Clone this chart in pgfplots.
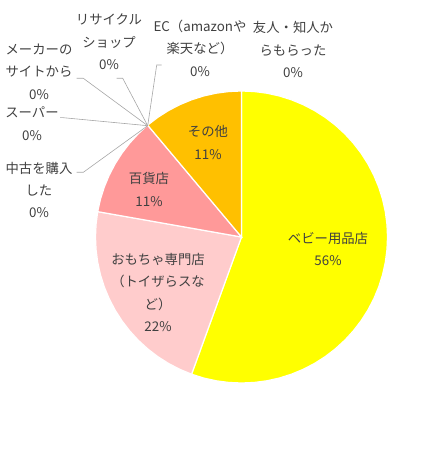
\documentclass[border=0pt]{standalone}
\usepackage{pgfplots}
\pgfplotsset{compat=1.18}
\usepackage{fontspec}
\newfontfamily\cjk{Noto Sans CJK JP}
\definecolor{cBaby}{HTML}{FFFF00}
\definecolor{cToy}{HTML}{FFCCCC}
\definecolor{cDept}{HTML}{FF9999}
\definecolor{cOther}{HTML}{FFC000}
\definecolor{lbl}{HTML}{404040}
\definecolor{lead}{HTML}{A6A6A6}
% counts: baby 5, toy 2, dept 1, other 1 (of 9) -> 200, 80, 40, 40 degrees
\begin{document}
\begin{tikzpicture}[lab/.style={font=\cjk\fontsize{13.4}{22.5}\selectfont, text=lbl, align=center, inner sep=0pt}]
\begin{axis}[width=446bp, height=453bp, scale only axis, hide axis, clip=false,
  xmin=-241.5, xmax=204.5, ymin=-216, ymax=237]
\addplot[draw=none] coordinates {(-241.5,-216) (204.5,237)};
% baby goods store 56%
\addplot[data cs=polar, fill=cBaby, draw=white, line width=1.2pt] coordinates {
 (0,0) (90,146) (85,146) (80,146) (75,146) (70,146) (65,146) (60,146) (55,146) (50,146) (45,146)
 (40,146) (35,146) (30,146) (25,146) (20,146) (15,146) (10,146) (5,146) (0,146) (-5,146)
 (-10,146) (-15,146) (-20,146) (-25,146) (-30,146) (-35,146) (-40,146) (-45,146) (-50,146)
 (-55,146) (-60,146) (-65,146) (-70,146) (-75,146) (-80,146) (-85,146) (-90,146) (-95,146)
 (-100,146) (-105,146) (-110,146) (0,0)} -- cycle;
% toy store 22%
\addplot[data cs=polar, fill=cToy, draw=white, line width=1.2pt] coordinates {
 (0,0) (-110,146) (-115,146) (-120,146) (-125,146) (-130,146) (-135,146) (-140,146) (-145,146)
 (-150,146) (-155,146) (-160,146) (-165,146) (-170,146) (-175,146) (-180,146) (-185,146)
 (-190,146) (0,0)} -- cycle;
% department store 11%
\addplot[data cs=polar, fill=cDept, draw=white, line width=1.2pt] coordinates {
 (0,0) (-190,146) (-195,146) (-200,146) (-205,146) (-210,146) (-215,146) (-220,146) (-225,146)
 (-230,146) (0,0)} -- cycle;
% other 11%
\addplot[data cs=polar, fill=cOther, draw=white, line width=1.2pt] coordinates {
 (0,0) (130,146) (125,146) (120,146) (115,146) (110,146) (105,146) (100,146) (95,146)
 (90,146) (0,0)} -- cycle;
% leader lines for 0% slices
\addplot[lead, line width=0.6pt] coordinates {(-93.8,111.3) (-158.2,64.7) (-164.8,64.7)};
\addplot[lead, line width=0.6pt] coordinates {(-93.8,111.3) (-178.2,119.3) (-181.5,119.3)};
\addplot[lead, line width=0.6pt] coordinates {(-93.8,111.3) (-158.2,158.7) (-164.8,158.7)};
\addplot[lead, line width=0.6pt] coordinates {(-93.8,111.3) (-118.8,158.7) (-124.8,158.7)};
\addplot[lead, line width=0.6pt] coordinates {(-93.8,111.3) (-84.8,172) (-79.8,172)};
% labels
\node[lab] at (axis cs:86.5,-12) {ベビー用品店\\56\%};
\node[lab] at (axis cs:-83.5,-55.5) {おもちゃ専門店\\（トイザらスな\\ど）\\22\%};
\node[lab] at (axis cs:-92.5,47.5) {百貨店\\11\%};
\node[lab] at (axis cs:-33.5,94.5) {その他\\11\%};
\node[lab] at (axis cs:-202.5,47) {中古を購入\\した\\0\%};
\node[lab] at (axis cs:-209.5,113.5) {スーパー\\0\%};
\node[lab] at (axis cs:-202.5,165.5) {メーカーの\\サイトから\\0\%};
\node[lab] at (axis cs:-132.5,195) {リサイクル\\ショップ\\0\%};
\node[lab] at (axis cs:-41.5,189) {EC（amazonや\\楽天など）\\0\%};
\node[lab] at (axis cs:51.5,187.5) {友人・知人か\\らもらった\\0\%};
\end{axis}
\end{tikzpicture}
\end{document}
